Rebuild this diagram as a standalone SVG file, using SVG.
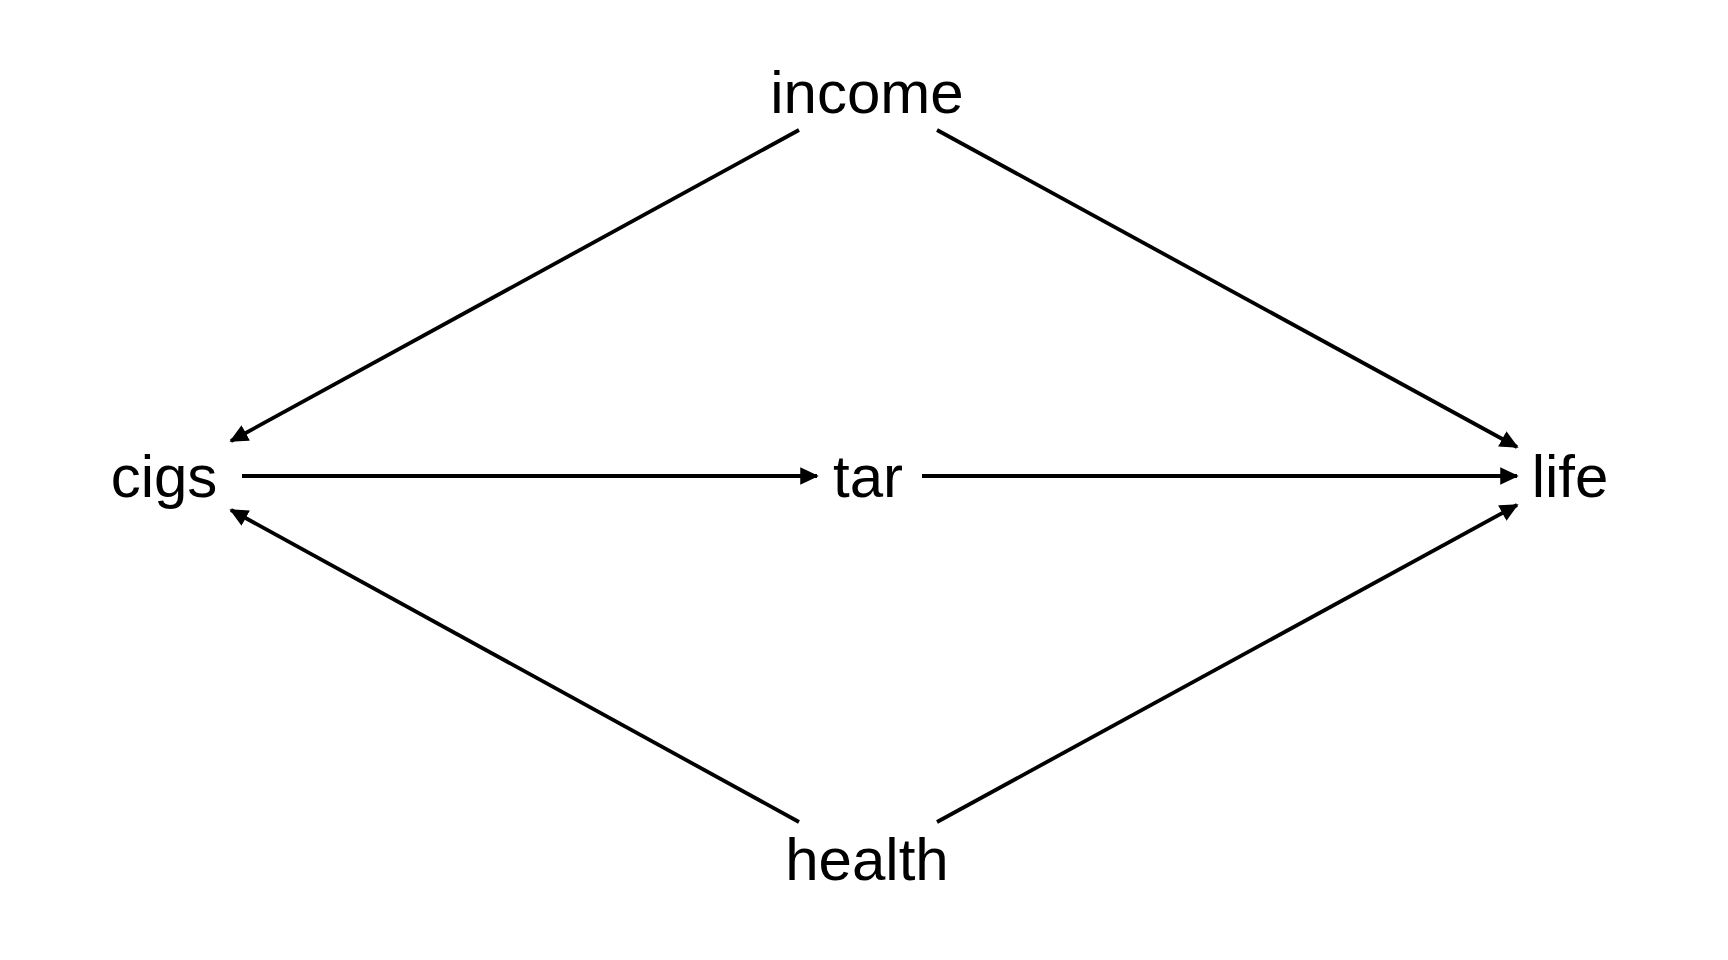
<svg xmlns="http://www.w3.org/2000/svg" width="1728" height="960" viewBox="0 0 1728 960">
  <style>
    .lbl { font-family: "Liberation Sans", Arial, sans-serif; font-size: 60px; fill: #000; text-anchor: middle; }
    .edge { stroke: #000; stroke-width: 3.8; fill: none; marker-end: url(#arrow); }
  </style>
  <defs>
    <marker id="arrow" markerUnits="userSpaceOnUse" markerWidth="20" markerHeight="20" viewBox="0 0 20 20" refX="17" refY="10" orient="auto">
      <path d="M1,2.5 L17,10 L1,17.5 Z" fill="#000" stroke="#000" stroke-width="1.5" stroke-linejoin="miter"/>
    </marker>
  </defs>
  <rect width="1728" height="960" fill="#fff"/>
  <g id="connectors">
    <line class="edge" x1="799" y1="130" x2="231" y2="441"/>
    <line class="edge" x1="937" y1="130" x2="1517" y2="447"/>
    <line class="edge" x1="242" y1="476" x2="817" y2="476"/>
    <line class="edge" x1="922" y1="476" x2="1517" y2="476"/>
    <line class="edge" x1="799" y1="822" x2="231" y2="510"/>
    <line class="edge" x1="937" y1="822" x2="1517" y2="505"/>
  </g>
  <g id="node-income"><text class="lbl" x="867" y="113">income</text></g>
  <g id="node-cigs"><text class="lbl" x="164" y="497">cigs</text></g>
  <g id="node-tar"><text class="lbl" x="868" y="497">tar</text></g>
  <g id="node-life"><text class="lbl" x="1570" y="497">life</text></g>
  <g id="node-health"><text class="lbl" x="867" y="880">health</text></g>
</svg>
